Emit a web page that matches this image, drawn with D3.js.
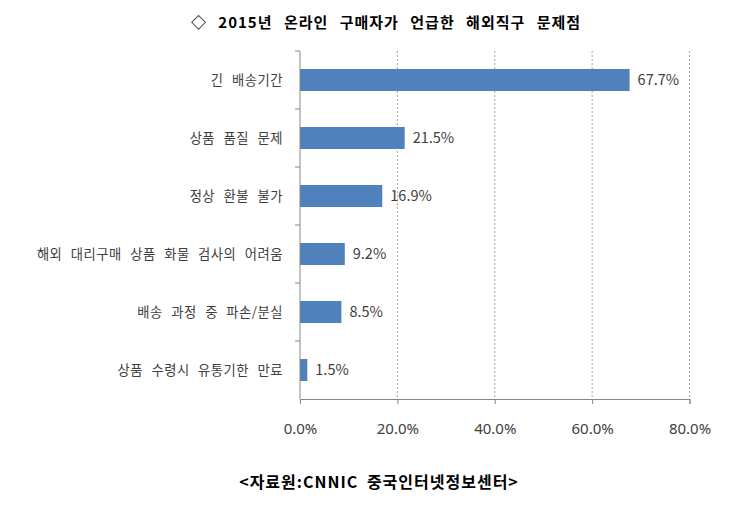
<!DOCTYPE html>
<html>
<head>
<meta charset="utf-8">
<script src="https://cdn.jsdelivr.net/npm/d3@7"></script>
<style>
  body { margin: 0; background: #fff; }
  svg text { font-family: "Noto Sans CJK KR", "Noto Sans", sans-serif; }
</style>
</head>
<body>
<svg id="chart" width="749" height="509"></svg>
<script>
// data
var categories = ["긴 배송기간", "상품 품질 문제", "정상 환불 불가",
    "해외 대리구매 상품 화물 검사의 어려움", "배송 과정 중 파손/분실", "상품 수령시 유통기한 만료"];
var values = [67.7, 21.5, 16.9, 9.2, 8.5, 1.5];
var ticks = [0, 20, 40, 60, 80];

var svg = d3.select("#chart");
var plotLeft = 300, plotRight = 689.5, plotTop = 51, plotBottom = 399;

var x = d3.scaleLinear().domain([0, 80]).range([plotLeft, plotRight]);
var y = d3.scaleBand().domain(categories).range([plotTop, plotBottom]).paddingInner(0.62).paddingOuter(0.31);

// gridlines
svg.append("g")
    .selectAll("line")
    .data(ticks.slice(1))
    .enter()
    .append("line")
    .attr("x1", d => x(d))
    .attr("x2", d => x(d))
    .attr("y1", plotTop)
    .attr("y2", plotBottom)
    .attr("stroke", "#a6a6a6")
    .attr("stroke-dasharray", "2,2");

// bars
svg.append("g")
    .selectAll("rect")
    .data(values)
    .enter()
    .append("rect")
    .attr("x", x(0))
    .attr("y", (d, i) => y(categories[i]))
    .attr("width", d => x(d) - x(0))
    .attr("height", y.bandwidth())
    .attr("fill", "#4f81bd");

// value labels
svg.append("g")
    .selectAll("text")
    .data(values)
    .enter()
    .append("text")
    .attr("x", d => x(d) + 8)
    .attr("y", (d, i) => y(categories[i]) + y.bandwidth() / 2)
    .attr("dy", "0.35em")
    .attr("font-size", 14.5)
    .attr("fill", "#404040")
    .text(d => d.toFixed(1) + "%");

// x axis
var xAxis = svg.append("g")
    .attr("transform", "translate(0," + plotBottom + ")")
    .call(d3.axisBottom(x).tickValues(ticks).tickSize(5).tickPadding(19).tickFormat(d => d.toFixed(1) + "%"));
xAxis.select(".domain").attr("stroke", "#868686");
xAxis.selectAll(".tick line").attr("stroke", "#868686");
xAxis.selectAll("text").attr("font-size", 15).attr("fill", "#404040")
    .style("font-family", "'Noto Sans', sans-serif");

// y axis with ticks on band boundaries
svg.append("line")
    .attr("x1", plotLeft).attr("x2", plotLeft)
    .attr("y1", plotTop).attr("y2", plotBottom)
    .attr("stroke", "#868686");
svg.append("g")
    .selectAll("line")
    .data(categories)
    .enter()
    .append("line")
    .attr("x1", plotLeft - 5)
    .attr("x2", plotLeft)
    .attr("y1", d => y(d) - y.step() * y.paddingInner() / 2)
    .attr("y2", d => y(d) - y.step() * y.paddingInner() / 2)
    .attr("stroke", "#868686");

// category labels
svg.append("g")
    .selectAll("text")
    .data(categories)
    .enter()
    .append("text")
    .attr("x", plotLeft - 17)
    .attr("y", d => y(d) + y.bandwidth() / 2)
    .attr("dy", "0.35em")
    .attr("text-anchor", "end")
    .attr("font-size", 13.3)
    .attr("letter-spacing", 0.5)
    .attr("word-spacing", 5)
    .attr("fill", "#404040")
    .text(d => d);

// title and source
svg.append("text")
    .attr("x", 386)
    .attr("y", 28)
    .attr("text-anchor", "middle")
    .attr("font-size", 15)
    .attr("font-weight", "bold")
    .attr("letter-spacing", 1)
    .attr("word-spacing", 7)
    .attr("fill", "#000")
    .text("◇ 2015년 온라인 구매자가 언급한 해외직구 문제점");

svg.append("text")
    .attr("x", 379)
    .attr("y", 488)
    .attr("text-anchor", "middle")
    .attr("font-size", 16)
    .attr("font-weight", "bold")
    .attr("letter-spacing", 1)
    .attr("word-spacing", 4)
    .attr("fill", "#000")
    .text("<자료원:CNNIC 중국인터넷정보센터>");
</script>
</body>
</html>
